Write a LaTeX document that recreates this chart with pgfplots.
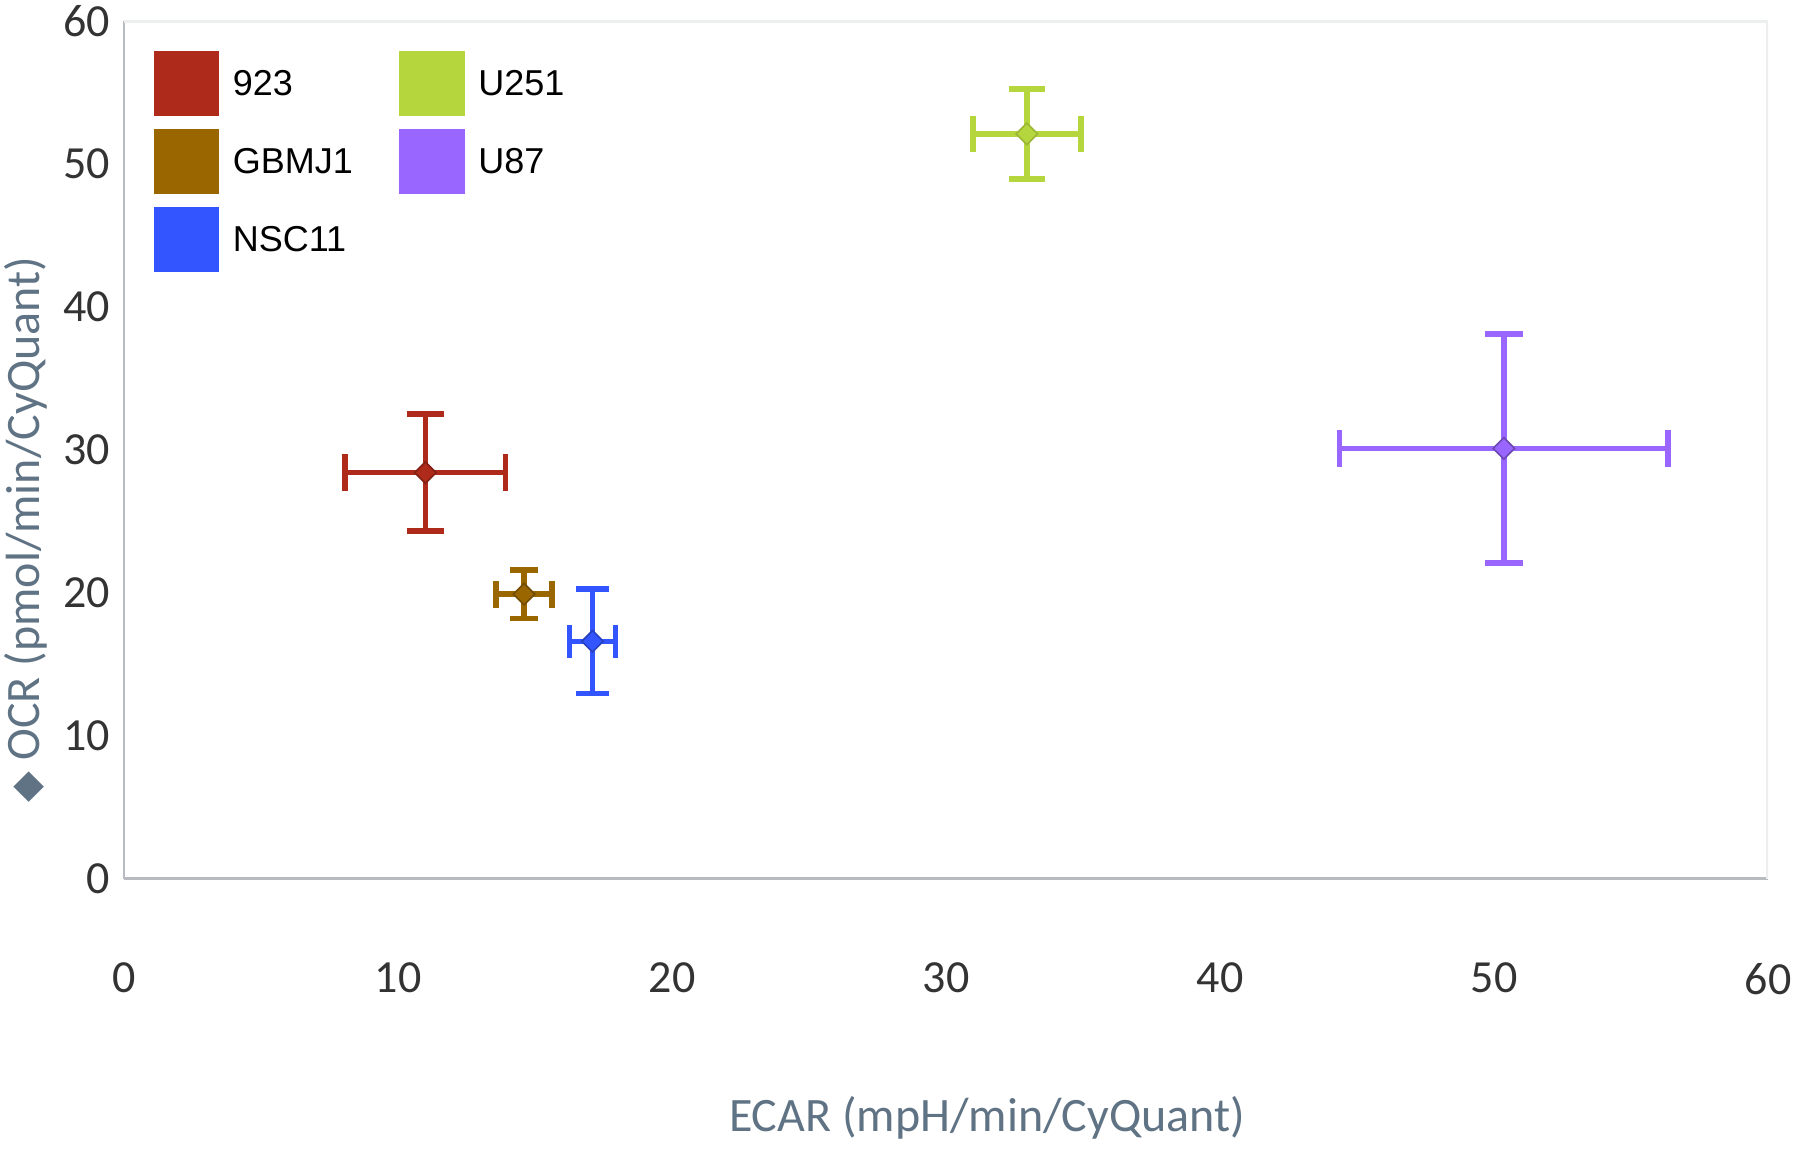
\documentclass[border=0pt]{standalone}
\usepackage{pgfplots}
\pgfplotsset{compat=1.18}
\usepackage{fontspec}
\setmainfont{Carlito}
\newfontfamily\legfont{Liberation Sans}
\newfontfamily\symfont{DejaVu Sans}
\definecolor{cA}{HTML}{AE2A1A}
\definecolor{cB}{HTML}{996600}
\definecolor{cC}{HTML}{3355FF}
\definecolor{cD}{HTML}{B5D63D}
\definecolor{cE}{HTML}{9966FF}
\definecolor{tickgray}{HTML}{333333}
\definecolor{labgray}{HTML}{5F7384}
\definecolor{axgray}{HTML}{B8BCC0}
\definecolor{framegray}{HTML}{EDEFEF}
\begin{document}
\begin{tikzpicture}
\useasboundingbox (-31pt,-69.1pt) rectangle (419pt,219.65pt);
\begin{axis}[
  at={(0pt,0pt)}, anchor=origin,
  scale only axis, width=411pt, height=214.4pt,
  xmin=0, xmax=60, ymin=0, ymax=60,
  xtick={0,10,...,60}, ytick={0,10,...,60},
  axis lines=left,
  axis line style={-, draw=axgray, line width=0.6pt},
  major tick length=0pt,
  /pgf/number format/assume math mode=true,
  tick label style={font=\fontsize{11.5}{13}\selectfont, text=tickgray},
  xticklabel style={yshift=-17.6pt},
  xlabel={ECAR (mpH/min/CyQuant)},
  ylabel={{\symfont\fontsize{10}{12}\selectfont ◆} OCR (pmol/min/CyQuant)},
  label style={font=\fontsize{12}{14}\selectfont, text=labgray},
  xlabel style={at={(axis description cs:0.525,-0.279)}, anchor=center},
  ylabel style={at={(axis description cs:-0.060,0.407)}, anchor=center},
  legend columns=2,
  legend cell align=left,
  legend image code/.code={\fill[#1] (0pt,-7.4pt) rectangle (16pt,8.6pt);},
  legend style={draw=none, fill=none, inner sep=0pt, row sep=3.1pt,
    font=\legfont\fontsize{9}{11}\selectfont,
    at={(axis description cs:0,1)}, anchor=north west, xshift=7.2pt, yshift=-7.2pt,
    /tikz/every odd column/.append style={column sep=1.4pt},
    /tikz/every even column/.append style={column sep=9.6pt}},
  error bars/error bar style={line width=1.4pt},
]
\draw[framegray, line width=1.2pt] (rel axis cs:0,1) -- (rel axis cs:1,1) -- (rel axis cs:1,0);

\addplot[color=cA, only marks, mark=square*, mark options={rotate=45, mark size=1.9pt, fill=cA, draw=cA!75!black},
  error bars/.cd, x dir=both, x explicit, y dir=both, y explicit,
  error mark options={rotate=90, line width=1.4pt, mark size=4.7pt, cA}]
  coordinates {(11.0,28.4) +- (2.93,4.1)};
\addlegendentry{923}

\addplot[color=cD, only marks, mark=square*, mark options={rotate=45, mark size=1.9pt, fill=cD, draw=cD!85!black},
  error bars/.cd, x dir=both, x explicit, y dir=both, y explicit,
  error mark options={rotate=90, line width=1.4pt, mark size=4.5pt, cD}]
  coordinates {(32.95,52.1) +- (1.97,3.15)};
\addlegendentry{U251}

\addplot[color=cB, only marks, mark=square*, mark options={rotate=45, mark size=1.9pt, fill=cB, draw=cB!75!black},
  error bars/.cd, x dir=both, x explicit, y dir=both, y explicit,
  error mark options={rotate=90, line width=1.4pt, mark size=3.4pt, cB}]
  coordinates {(14.6,19.9) +- (1.03,1.7)};
\addlegendentry{GBMJ1}

\addplot[color=cE, only marks, mark=square*, mark options={rotate=45, mark size=1.9pt, fill=cE, draw=cE!70!black},
  error bars/.cd, x dir=both, x explicit, y dir=both, y explicit,
  error mark options={rotate=90, line width=1.4pt, mark size=4.7pt, cE}]
  coordinates {(50.36,30.1) +- (6.0,8.0)};
\addlegendentry{U87}

\addplot[color=cC, only marks, mark=square*, mark options={rotate=45, mark size=1.9pt, fill=cC, draw=cC!75!black},
  error bars/.cd, x dir=both, x explicit, y dir=both, y explicit,
  error mark options={rotate=90, line width=1.4pt, mark size=4.2pt, cC}]
  coordinates {(17.1,16.6) +- (0.84,3.65)};
\addlegendentry{NSC11}
\end{axis}
\end{tikzpicture}
\end{document}
